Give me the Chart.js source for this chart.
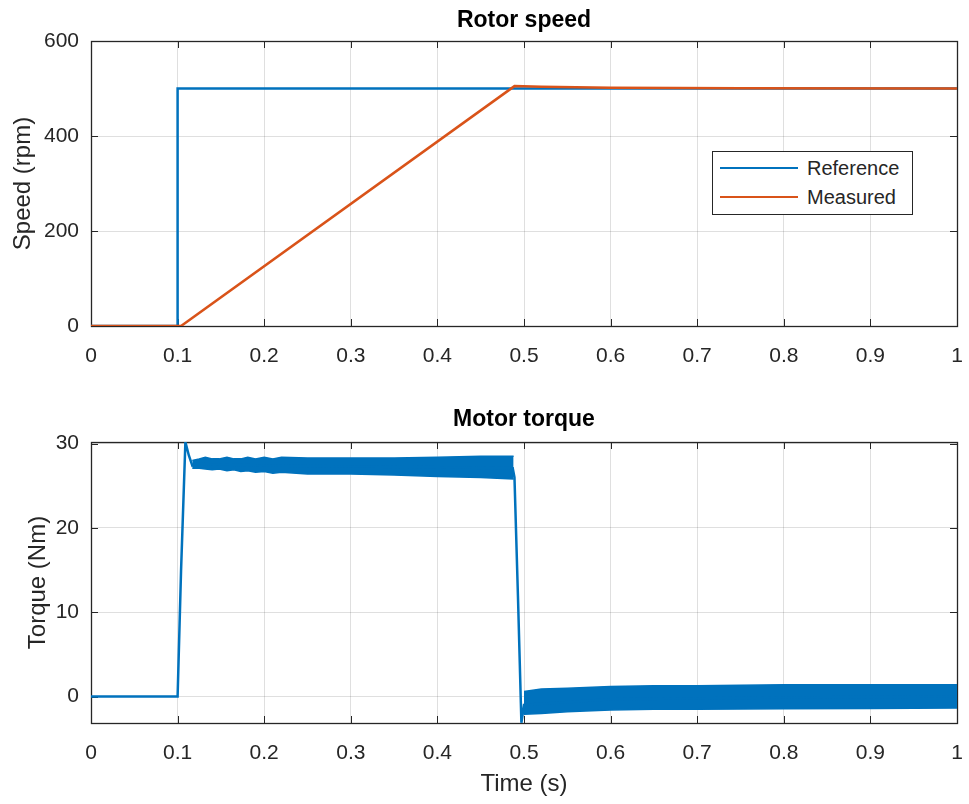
<!DOCTYPE html>
<html>
<head>
<meta charset="utf-8">
<title>Rotor speed and motor torque</title>
<script src="https://cdn.jsdelivr.net/npm/chart.js@4.4.1/dist/chart.umd.min.js"></script>
<style>
  html, body { margin: 0; padding: 0; background: #fff; }
  #page { position: relative; width: 969px; height: 804px; overflow: hidden; font-family: "Liberation Sans", Arial, sans-serif; }
  #page canvas { position: absolute; left: 0; }
  #speed-chart { top: 0; }
  #torque-chart { top: 400px; }
  .legend { position: absolute; left: 712px; top: 151px; width: 199px; height: 62px; border: 1px solid #262626; background: #fff; }
  .legend-item { position: absolute; left: 0; height: 24px; display: flex; align-items: center; font-size: 20px; color: #262626; }
  .legend-line { width: 78px; height: 2px; margin-left: 7px; margin-right: 9px; }
</style>
</head>
<body>
<div id="page">
  <canvas id="speed-chart" width="969" height="400"></canvas>
  <canvas id="torque-chart" width="969" height="404"></canvas>
  <div class="legend">
    <div class="legend-item" style="top:4px"><span class="legend-line" style="background:#0072BD"></span>Reference</div>
    <div class="legend-item" style="top:33px"><span class="legend-line" style="background:#D95319"></span>Measured</div>
  </div>
</div>
<script>
// shared x ticks (s)
const timeTicks = [0, 0.1, 0.2, 0.3, 0.4, 0.5, 0.6, 0.7, 0.8, 0.9, 1];

// Rotor speed (rpm)
const refTime = [0, 0.1, 0.1, 1.0];
const refSpeed = [0, 0, 500, 500];
const measTime = [0, 0.1, 0.104, 0.489, 0.52, 0.6, 0.75, 1.0];
const measSpeed = [0, 0, 0, 505, 503.5, 501.5, 500.4, 500];

// Motor torque (Nm) - main trace
const torqueTime = [0, 0.1, 0.104, 0.109, 0.113, 0.117, 0.122, 0.2, 0.3, 0.4, 0.487, 0.489, 0.493, 0.497, 0.5, 0.6, 0.8, 1.0];
const torqueVal  = [0, 0, 15, 30.2, 28.6, 27.4, 27.6, 27.4, 27.3, 27.2, 27.1, 26, 12, -3.1, -1.0, -0.3, -0.1, 0];

// ripple band while accelerating (upper / lower envelope)
const band1Time  = [0.117, 0.125, 0.132, 0.14, 0.148, 0.157, 0.165, 0.173, 0.181, 0.19, 0.2, 0.21, 0.22, 0.25, 0.3, 0.35, 0.4, 0.45, 0.488];
const band1Upper = [28.0, 28.2, 28.4, 28.2, 28.2, 28.4, 28.2, 28.2, 28.4, 28.2, 28.4, 28.2, 28.4, 28.3, 28.3, 28.3, 28.4, 28.5, 28.5];
const band1Lower = [27.1, 27.1, 27.0, 26.9, 27.0, 26.8, 26.9, 26.7, 26.8, 26.6, 26.7, 26.5, 26.6, 26.4, 26.4, 26.3, 26.1, 26.0, 25.8];

// ripple band at constant speed
const band2Time  = [0.5, 0.52, 0.55, 0.6, 0.65, 0.7, 0.8, 0.9, 1.0];
const band2Upper = [0.6, 0.9, 1.0, 1.2, 1.3, 1.3, 1.4, 1.4, 1.4];
const band2Lower = [-2.1, -2.0, -1.8, -1.6, -1.5, -1.5, -1.45, -1.4, -1.35];

const BLUE = '#0072BD';
const ORANGE = '#D95319';
const AXIS = '#262626';
const GRID = 'rgba(38,38,38,0.15)';
const FONT = "'Liberation Sans', Arial, sans-serif";

const pts = (xs, ys) => xs.map((x, i) => ({ x, y: ys[i] }));

// MATLAB style box, inward ticks and the title
const axesBox = {
  id: 'axesBox',
  beforeDatasetsDraw(chart, args, opts) {
    const { ctx, chartArea: a, scales: { x, y } } = chart;
    ctx.save();
    ctx.strokeStyle = AXIS;
    ctx.lineWidth = 1;
    ctx.beginPath();
    x.ticks.forEach(t => {
      const px = Math.round(x.getPixelForValue(t.value)) + 0.5;
      ctx.moveTo(px, a.bottom); ctx.lineTo(px, a.bottom - 7);
      ctx.moveTo(px, a.top); ctx.lineTo(px, a.top + 7);
    });
    y.ticks.forEach(t => {
      const py = Math.round(y.getPixelForValue(t.value)) + 0.5;
      ctx.moveTo(a.left, py); ctx.lineTo(a.left + 7, py);
      ctx.moveTo(a.right, py); ctx.lineTo(a.right - 7, py);
    });
    ctx.stroke();
    ctx.lineWidth = 1.3;
    ctx.strokeRect(Math.round(a.left) + 0.5, Math.round(a.top) + 0.5, Math.round(a.width), Math.round(a.height));
    ctx.restore();
  },
  afterDraw(chart, args, opts) {
    const { ctx, chartArea: a } = chart;
    ctx.save();
    ctx.fillStyle = '#000';
    ctx.font = `bold 23px ${FONT}`;
    ctx.textAlign = 'center';
    ctx.textBaseline = 'middle';
    ctx.fillText(opts.text, (a.left + a.right) / 2, opts.y);
    ctx.restore();
  }
};

function makeOptions(cfg) {
  return {
    responsive: false,
    animation: false,
    layout: { padding: { top: cfg.top, right: 12, left: 0, bottom: 0 } },
    plugins: {
      legend: { display: false },
      tooltip: { enabled: false },
      axesBox: { text: cfg.title, y: cfg.titleY }
    },
    elements: { point: { radius: 0 }, line: { tension: 0, borderWidth: 2.5 } },
    scales: {
      x: {
        type: 'linear', min: 0, max: 1,
        afterFit: s => { s.height = cfg.xHeight; s.paddingLeft = 0; s.paddingRight = 0; },
        afterBuildTicks: s => { s.ticks = timeTicks.map(v => ({ value: v })); },
        ticks: {
          padding: 18, color: AXIS, maxRotation: 0, autoSkip: false,
          font: { family: FONT, size: 21 },
          callback: v => String(+v.toFixed(1))
        },
        grid: { color: GRID, drawTicks: false },
        border: { display: false },
        title: cfg.xTitle ? {
          display: true, text: cfg.xTitle, color: AXIS,
          font: { family: FONT, size: 24 }, padding: { bottom: 5 }
        } : { display: false }
      },
      y: {
        min: cfg.yMin, max: cfg.yMax,
        afterFit: s => { s.width = 91; s.paddingTop = 0; s.paddingBottom = 0; },
        ticks: {
          stepSize: cfg.yStep, includeBounds: false, padding: 12, color: AXIS,
          font: { family: FONT, size: 21 }
        },
        grid: { color: GRID, drawTicks: false },
        border: { display: false },
        title: {
          display: true, text: cfg.yTitle, color: AXIS,
          font: { family: FONT, size: 24 }, padding: { top: cfg.yTitlePad }
        }
      }
    }
  };
}

new Chart(document.getElementById('speed-chart'), {
  type: 'line',
  data: {
    datasets: [
      { label: 'Measured', data: pts(measTime, measSpeed), borderColor: ORANGE, order: 0 },
      { label: 'Reference', data: pts(refTime, refSpeed), borderColor: BLUE, order: 1 }
    ]
  },
  options: makeOptions({
    top: 41, xHeight: 74, yMin: 0, yMax: 600, yStep: 200,
    yTitle: 'Speed (rpm)', yTitlePad: 9, title: 'Rotor speed', titleY: 21
  }),
  plugins: [axesBox]
});

new Chart(document.getElementById('torque-chart'), {
  type: 'line',
  data: {
    datasets: [
      { label: 'Torque', data: pts(torqueTime, torqueVal), borderColor: BLUE, order: 0 },
      { label: 'band1 upper', data: pts(band1Time, band1Upper), borderColor: BLUE, borderWidth: 1.5, order: 1 },
      { label: 'band1 lower', data: pts(band1Time, band1Lower), borderColor: BLUE, borderWidth: 1.5, backgroundColor: BLUE, fill: '-1', order: 1 },
      { label: 'band2 upper', data: pts(band2Time, band2Upper), borderColor: BLUE, borderWidth: 1.5, order: 1 },
      { label: 'band2 lower', data: pts(band2Time, band2Lower), borderColor: BLUE, borderWidth: 1.5, backgroundColor: BLUE, fill: '-1', order: 1 }
    ]
  },
  options: makeOptions({
    top: 42, xHeight: 81, yMin: -3.13, yMax: 30.2, yStep: 10,
    xTitle: 'Time (s)', yTitle: 'Torque (Nm)', yTitlePad: 24, title: 'Motor torque', titleY: 20
  }),
  plugins: [axesBox]
});
</script>
</body>
</html>
